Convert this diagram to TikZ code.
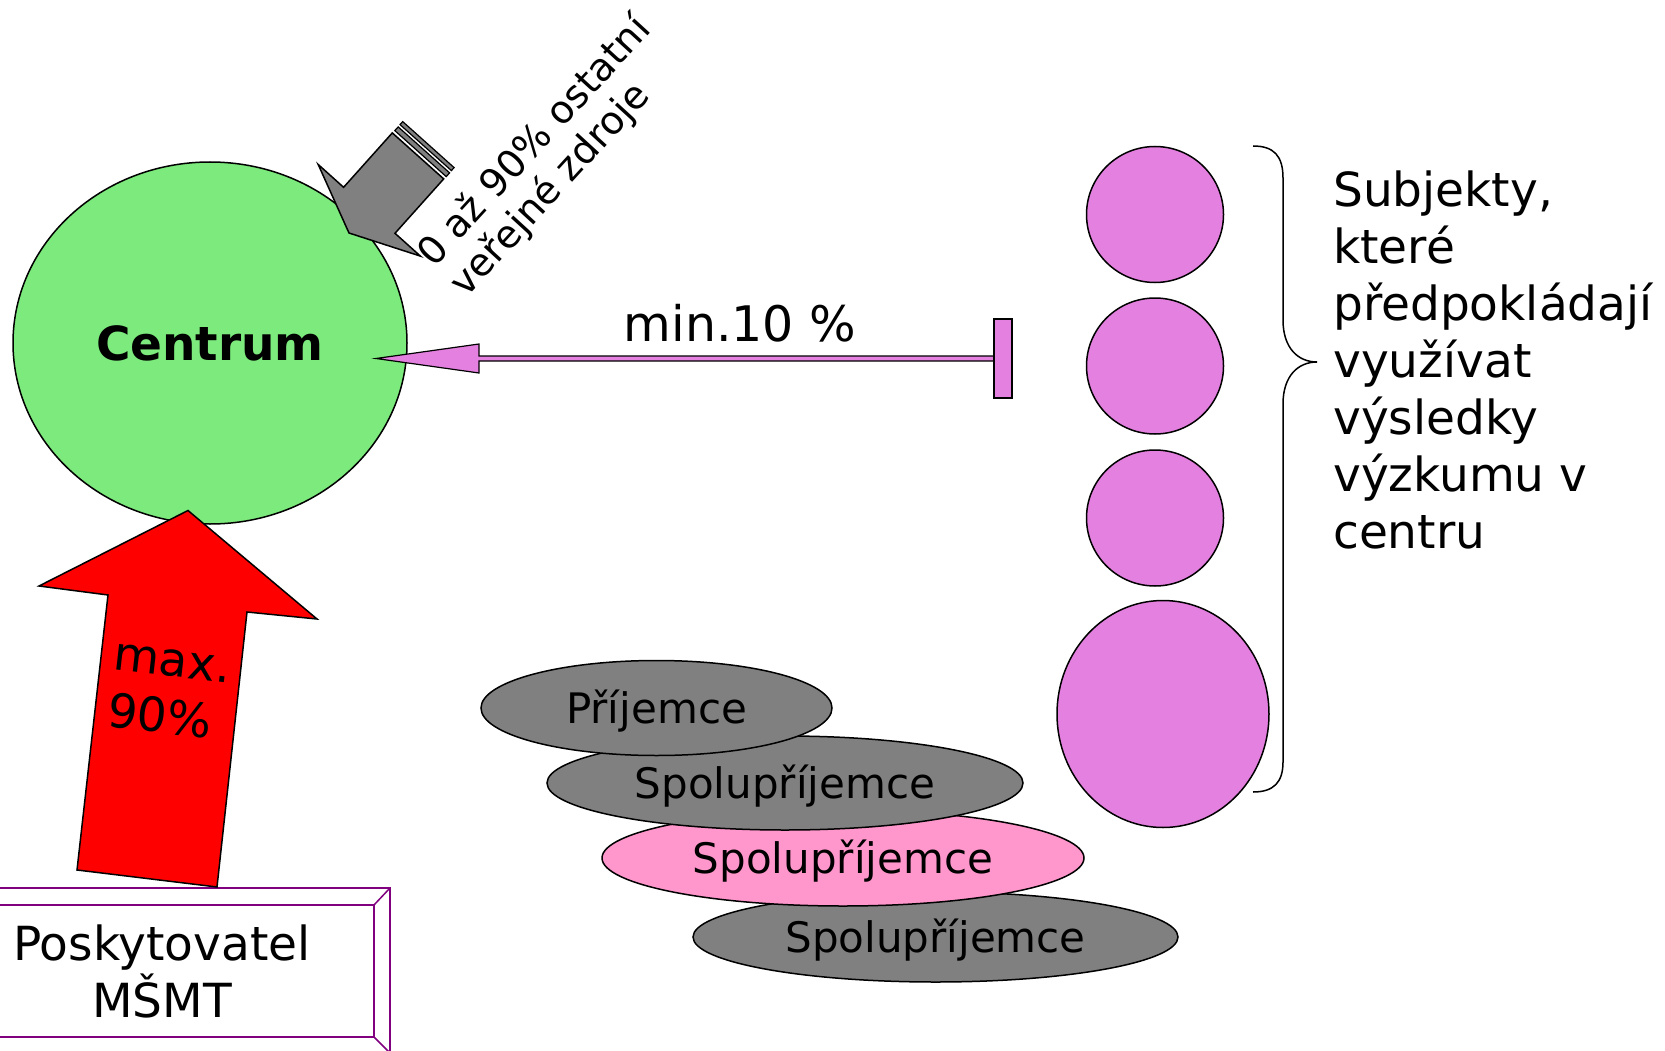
\documentclass[tikz,border=0pt]{standalone}
\usepackage{fontspec}
\setmainfont{DejaVu Sans}
\usetikzlibrary{shapes.geometric}
\definecolor{cgreen}{RGB}{124,234,124}
\definecolor{cviolet}{RGB}{228,128,224}
\definecolor{cpink}{RGB}{255,150,204}
\definecolor{cgray}{RGB}{128,128,128}
\definecolor{cbox}{RGB}{128,0,128}
\begin{document}
\begin{tikzpicture}[x=1pt,y=-1pt,
  outl/.style={draw=black,line width=1.5pt,line join=miter},
  blob/.style={ellipse,outl,inner sep=0pt},
  big/.style={font=\fontsize{47}{57}\selectfont},
  lab/.style={font=\fontsize{42}{50}\selectfont,text height=35pt,text depth=4pt}]
\useasboundingbox (0,0) rectangle (1665,1051);

% Centrum
\node[blob, fill=cgreen, minimum width=394pt, minimum height=362pt,
      font=\bfseries\fontsize{47}{56}\selectfont] (centrum) at (210,343) {Centrum};

% grey striped arrow (other public sources)
\draw[outl, fill=cgray] (349,233) -- (318.2,164.5) -- (343.6,187.3) -- (392.3,132.9)
  -- (443.7,178.9) -- (395,233.3) -- (420.4,256.1) -- cycle;
\draw[outl, line width=1.2pt, fill=cgray] (394.8,130.6) -- (398.2,126.9) -- (449.6,172.9) -- (446.2,176.6) -- cycle;
\draw[outl, line width=1.2pt, fill=cgray] (400,124.6) -- (402.7,121.6) -- (454.1,167.6) -- (451.4,170.6) -- cycle;
\node[font=\fontsize{38.5}{44}\selectfont, align=left, rotate=47.5, inner sep=0pt]
  (ostatni) at (551,157) {0 až 90\% ostatní\\veřejné zdroje};

% provider box
\draw[cbox, line width=1.5pt, fill=white] (-20,888) rectangle (390,1070);
\draw[cbox, line width=1.5pt] (-20,905) rectangle (374,1037);
\draw[cbox, line width=1.5pt] (374,905) -- (390,888) (374,1037) -- (390,1053);
\node[big, align=center, inner sep=0pt, anchor=north] (posk) at (162,925) {Poskytovatel\\MŠMT};

% red arrow
\draw[outl, fill=red] (188,510.5) -- (39,586) -- (108,595) -- (77,870) -- (217,887)
  -- (247,612) -- (317,619) -- cycle;
\node[big, align=left, rotate=-6.5, inner sep=0pt] (maxl) at (169,692) {max.\\90\%};

% min. 10 % connector
\coordinate (ptip) at (376,358.5);
\draw[outl, line width=1.2pt, fill=cviolet] (ptip) -- (479,344) -- (479,356) -- (996,356)
  -- (996,361) -- (479,361) -- (479,373) -- cycle;
\node[outl, line width=1.2pt, fill=cviolet, minimum width=18pt, minimum height=79pt,
      inner sep=0pt] (tbar) at (1003,358.5) {};
\node[font=\fontsize{49}{58}\selectfont, inner sep=0pt] (minlab) at (740,323) {min.10 \%};

% subjects
\node[blob, fill=cviolet, minimum width=137pt, minimum height=136pt] (s1) at (1155,214.5) {};
\node[blob, fill=cviolet, minimum width=137pt, minimum height=136pt] (s2) at (1155,366) {};
\node[blob, fill=cviolet, minimum width=137pt, minimum height=136pt] (s3) at (1155,518) {};
\node[blob, fill=cviolet, minimum width=212pt, minimum height=227pt] (s4) at (1163,714) {};

\draw[line width=1.5pt] (1253,146) .. controls (1274,146) and (1283,156) .. (1283,178)
  -- (1283,320) .. controls (1283,348) and (1298,362) .. (1317,362)
  .. controls (1298,362) and (1283,376) .. (1283,404)
  -- (1283,762) .. controls (1283,782) and (1274,792) .. (1253,792);
\node[big, align=left, anchor=north west, inner sep=0pt] (subj) at (1333,171)
  {Subjekty,\\které\\předpokládají\\využívat\\výsledky\\výzkumu v\\centru};

% recipients
\node[blob, fill=cgray, lab, minimum width=485pt, minimum height=90pt] (e4) at (935.5,937) {Spolupříjemce};
\node[blob, fill=cpink, lab, minimum width=482pt, minimum height=96pt] (e3) at (843,858) {Spolupříjemce};
\node[blob, fill=cgray, lab, minimum width=476pt, minimum height=94pt] (e2) at (785,783) {Spolupříjemce};
\node[blob, fill=cgray, lab, minimum width=351pt, minimum height=95pt] (e1) at (656.5,708) {Příjemce};
\end{tikzpicture}
\end{document}
